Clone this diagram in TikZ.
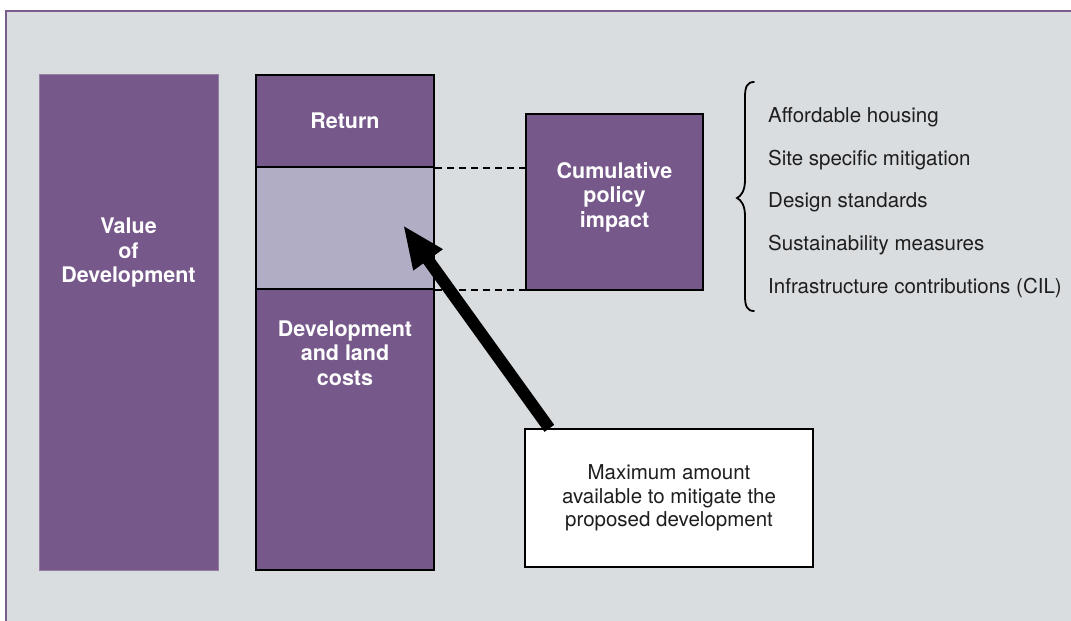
\documentclass[tikz,border=0pt]{standalone}
\usepackage{fontspec}
\setmainfont{TeX Gyre Heros}
\usetikzlibrary{arrows.meta,calc}
\definecolor{bgpanel}{HTML}{D9DDE0}
\definecolor{purp}{HTML}{76588A}
\definecolor{lightpurp}{HTML}{B0ADC5}
\definecolor{framepurp}{HTML}{7A5D8C}
\definecolor{listtext}{HTML}{1E1E1E}
\tikzset{
  bar/.style={rectangle, fill=purp, draw=black, line width=1.2pt, inner sep=0pt, anchor=center},
  whitelabel/.style={text=white, font=\fontsize{21.5}{24.5}\selectfont\bfseries, align=center, inner sep=0pt},
  listitem/.style={text=listtext, font=\fontsize{20.5}{23}\selectfont, anchor=base west, inner sep=0pt},
  guide/.style={dash pattern=on 7pt off 5pt, line width=2pt, black},
}
\begin{document}
\begin{tikzpicture}[x=1pt,y=-1pt]
\useasboundingbox (0,0) rectangle (1071,621);
\fill[white] (0,0) rectangle (1071,621);
\fill[bgpanel] (5,10) rectangle (1071,621);
\draw[framepurp, line width=2pt] (5.5,621) -- (5.5,10.5) -- (1071,10.5);

% value of development
\node[bar, draw=framepurp!80, line width=0.6pt, minimum width=179pt, minimum height=496pt] (value) at (128.5,322) {};
\node[whitelabel] (valuetext) at (128.5,253) {Value\\of\\Development};

% stacked column
\node[bar, minimum width=178pt, minimum height=92pt] (ret) at (345,121) {};
\node[bar, fill=lightpurp, minimum width=178pt, minimum height=122pt] (gap) at (345,228) {};
\node[bar, minimum width=178pt, minimum height=281pt] (costs) at (345,429.5) {};
\node[whitelabel] (rettext) at (345,121) {Return};
\node[whitelabel] (coststext) at (345,353) {Development\\and land\\costs};

% cumulative policy impact
\node[bar, minimum width=177pt, minimum height=176pt] (cum) at (614.5,202) {};
\node[whitelabel] (cumtext) at (614.5,197) {Cumulative\\policy\\impact};

\draw[guide] (ret.south east) -- (cum.west |- ret.south east);
\draw[guide] (gap.south east) -- (cum.west |- gap.south east);

% brace and list
\coordinate (bracetop) at (754,82);
\coordinate (bracetip) at (737,198);
\coordinate (bracebot) at (754,311);
\draw[line width=1.8pt, line cap=round]
  (bracetop) .. controls (747,82) and (745,87) .. (745,97)
  -- (745,180) .. controls (745,191) and (741,196) .. (bracetip)
  .. controls (741,200) and (745,205) .. (745,216)
  -- (745,296) .. controls (745,306) and (747,311) .. (bracebot);
\node[listitem] (l1) at (768,122) {Affordable housing};
\node[listitem] (l2) at (768,165) {Site specific mitigation};
\node[listitem] (l3) at (768,207.5) {Design standards};
\node[listitem] (l4) at (768,250) {Sustainability measures};
\node[listitem] (l5) at (768,293) {Infrastructure contributions (CIL)};

% explanation box and arrow
\node[rectangle, fill=white, draw=black, line width=1.3pt, minimum width=288pt, minimum height=138pt, inner sep=0pt,
      text=listtext, font=\fontsize{20.5}{23.5}\selectfont, align=center] (maxbox) at (669,498)
      {Maximum amount\\available to mitigate the\\proposed development};
\coordinate (tip) at (403,225);
\draw[line width=12pt, -{Triangle[length=43pt,width=33pt]}] ($(maxbox.north west)+(25,0)$) -- (tip);
\end{tikzpicture}
\end{document}
